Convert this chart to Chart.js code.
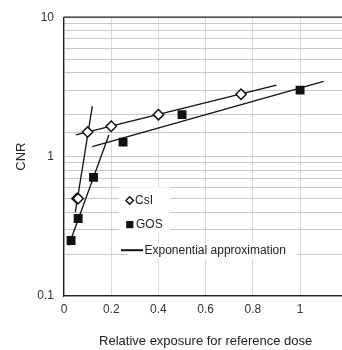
<!DOCTYPE html>
<html>
<head>
<meta charset="utf-8">
<script src="https://cdn.jsdelivr.net/npm/chart.js@4/dist/chart.umd.min.js"></script>
<style>
html,body{margin:0;padding:0;background:#fff;overflow:hidden;width:342px;height:350px;}
canvas{display:block;}
</style>
</head>
<body>
<canvas id="c" width="354" height="350" style="width:354px;height:350px"></canvas>
<script>
// ---- data ----
const csiX = [0.055, 0.06, 0.1, 0.2, 0.4, 0.75];
const csiY = [0.5, 0.5, 1.5, 1.65, 2.0, 2.8];
const gosX = [0.03, 0.06, 0.125, 0.25, 0.5, 1.0];
const gosY = [0.25, 0.36, 0.71, 1.27, 2.0, 3.0];
// exponential approximation lines (end points)
const fitCsiHighX = [0.05, 0.9];
const fitCsiHighY = [1.43, 3.25];
const fitGosHighX = [0.12, 1.1];
const fitGosHighY = [1.18, 3.47];
const fitCsiLowX = [0.048, 0.12];
const fitCsiLowY = [0.40, 2.30];
const fitGosLowX = [0.02, 0.19];
const fitGosLowY = [0.23, 1.43];
const yTickLabels = [0.1, 1, 10];
const xTitle = 'Relative exposure for reference dose';
const yTitle = 'CNR';
const legendLabels = ['CsI', 'GOS', 'Exponential approximation'];

const pts = (xs, ys) => xs.map((x, i) => ({x: x, y: ys[i]}));
const fitDs = (xs, ys) => ({
  data: pts(xs, ys), showLine: true, borderColor: '#111', borderWidth: 1.3,
  pointRadius: 0, fill: false
});

const legendPlugin = {
  id: 'customLegend',
  afterDatasetsDraw(chart) {
    const ctx = chart.ctx;
    const a = chart.chartArea;
    const ox = a.left, oy = a.top;
    ctx.save();
    ctx.fillStyle = '#fff';
    ctx.fillRect(ox + 55, oy + 170, 51, 45);
    ctx.fillRect(ox + 64, oy + 226, 168, 16);
    // diamond
    const dx = ox + 65.7, dy = oy + 183.3, r = 3.8;
    ctx.beginPath();
    ctx.moveTo(dx, dy - r); ctx.lineTo(dx + r, dy); ctx.lineTo(dx, dy + r); ctx.lineTo(dx - r, dy); ctx.closePath();
    ctx.fillStyle = '#fff'; ctx.fill();
    ctx.strokeStyle = '#111'; ctx.lineWidth = 1.4; ctx.stroke();
    // square
    ctx.fillStyle = '#111';
    ctx.fillRect(ox + 62.2, oy + 203.8, 7.2, 7.2);
    // line
    ctx.beginPath();
    ctx.moveTo(ox + 57, oy + 233); ctx.lineTo(ox + 79, oy + 233);
    ctx.lineWidth = 2; ctx.strokeStyle = '#111'; ctx.stroke();
    ctx.font = '12px "Liberation Sans", Arial, sans-serif';
    ctx.fillStyle = '#222';
    ctx.textBaseline = 'middle';
    ctx.textAlign = 'left';
    ctx.fillText(legendLabels[0], ox + 71, oy + 183.5);
    ctx.fillText(legendLabels[1], ox + 72, oy + 207.5);
    ctx.fillText(legendLabels[2], ox + 80.5, oy + 233.5);
    ctx.restore();
  }
};

const topBorder = {
  id: 'topBorder',
  afterDraw(chart) {
    const ctx = chart.ctx, a = chart.chartArea;
    ctx.save();
    ctx.strokeStyle = '#222'; ctx.lineWidth = 1.2;
    ctx.beginPath(); ctx.moveTo(a.left, a.top); ctx.lineTo(a.right, a.top); ctx.stroke();
    ctx.restore();
  }
};

new Chart(document.getElementById('c'), {
  type: 'scatter',
  data: {
    datasets: [
      {data: pts(csiX, csiY), pointStyle: 'rectRot', pointRadius: 5.2, pointHoverRadius: 5.2,
       pointBackgroundColor: '#fff', pointBorderColor: '#111', pointBorderWidth: 1.5, showLine: false},
      {data: pts(gosX, gosY), pointStyle: 'rect', pointRadius: 6.3, pointHoverRadius: 6.3,
       pointBackgroundColor: '#111', pointBorderColor: '#111', pointBorderWidth: 0, showLine: false},
      fitDs(fitCsiHighX, fitCsiHighY),
      fitDs(fitGosHighX, fitGosHighY),
      fitDs(fitCsiLowX, fitCsiLowY),
      fitDs(fitGosLowX, fitGosLowY)
    ]
  },
  options: {
    responsive: false,
    animation: false,
    devicePixelRatio: 1,
    layout: {padding: {top: 16, right: 0, left: 0, bottom: 0}},
    plugins: {legend: {display: false}, tooltip: {enabled: false}},
    scales: {
      x: {
        type: 'linear', min: 0, max: 1.2,
        border: {display: true, color: '#222', width: 1.3},
        grid: {color: '#d9d9d9', lineWidth: 1, drawTicks: false},
        ticks: {
          stepSize: 0.2, padding: 6, color: '#333',
          font: {family: '"Liberation Sans", Arial, sans-serif', size: 12},
          callback: (v) => v > 1.05 ? '' : String(Number(v.toFixed(1)))
        },
        title: {display: true, text: xTitle, color: '#222',
          font: {family: '"Liberation Sans", Arial, sans-serif', size: 13},
          padding: {top: 10, bottom: 1}},
        afterFit: (s) => { s.height = 54; }
      },
      y: {
        type: 'logarithmic', min: 0.1, max: 10,
        border: {display: true, color: '#222', width: 1.3},
        grid: {color: '#c8c8c8', lineWidth: 1, drawTicks: false},
        ticks: {
          autoSkip: false, padding: 10, color: '#333',
          font: {family: '"Liberation Sans", Arial, sans-serif', size: 12},
          callback: (v) => {
            const m = yTickLabels.find(t => Math.abs(v - t) < 1e-9 * Math.max(1, t));
            return m === undefined ? '' : String(m);
          }
        },
        title: {display: true, text: yTitle, color: '#222',
          font: {family: '"Liberation Sans", Arial, sans-serif', size: 13},
          padding: {top: 14, bottom: 0}},
        afterFit: (s) => { s.width = 64; }
      }
    }
  },
  plugins: [legendPlugin, topBorder]
});
</script>
</body>
</html>
